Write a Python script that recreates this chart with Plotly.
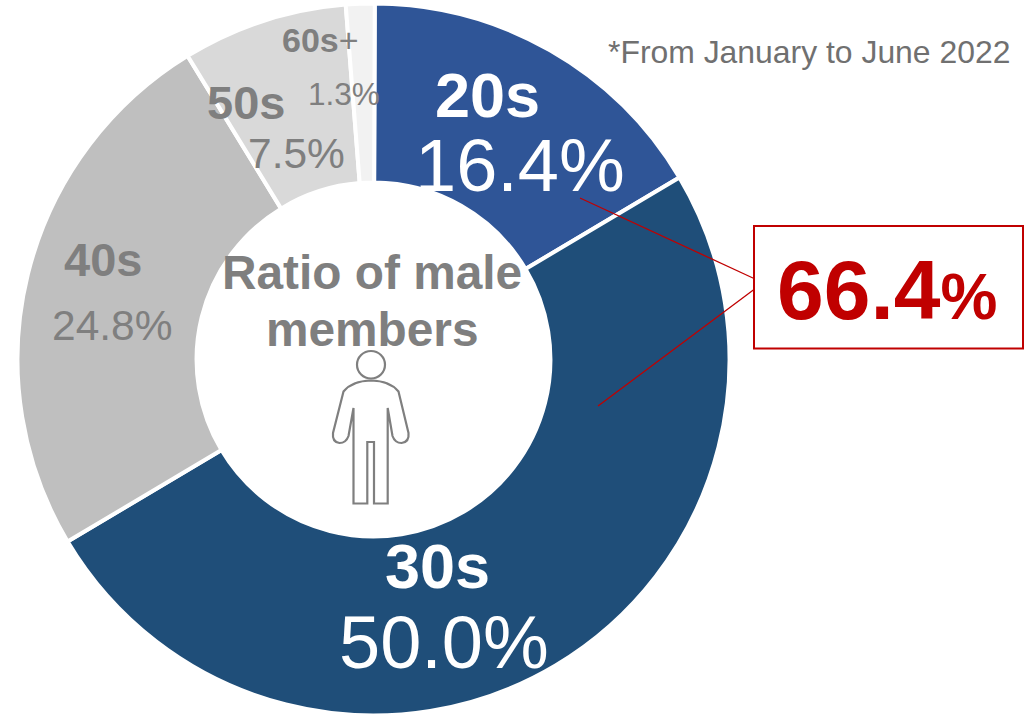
import plotly.graph_objects as go

groups = ["20s", "30s", "40s", "50s", "60s+"]
shares = [16.4, 50.0, 24.8, 7.5, 1.3]
colors = ["#2F5597", "#1F4E79", "#BFBFBF", "#D9D9D9", "#F2F2F2"]
total_label = "66.4"
center_lines = ["Ratio of male", "members"]
note = "*From January to June 2022"

W, H = 1024, 717
FONT = "Liberation Sans, Arial, sans-serif"
GREY = "#7F7F7F"
RED = "#C00000"

fig = go.Figure(go.Pie(
    labels=groups, values=shares, sort=False, direction="clockwise", rotation=0.2,
    hole=0.497, textinfo="none", hoverinfo="label+percent",
    marker=dict(colors=colors, line=dict(color="white", width=4)),
    domain=dict(x=[17.5 / W, 729.5 / W], y=[(H - 715.5) / H, (H - 3.5) / H]),
    showlegend=False,
))


def txt(x, y, text, size, color, bold=False):
    fig.add_annotation(
        x=x, y=y, xref="x", yref="y", text=f"<b>{text}</b>" if bold else text,
        showarrow=False, xanchor="center", yanchor="middle",
        font=dict(family=FONT, size=size, color=color),
    )


# (label centre, percent centre, label size, percent size, colour)
label_style = [
    ((487, 95), (520, 165), 63, 74, "white"),
    ((437, 566), (444, 642), 63, 74, "white"),
    ((103, 259), (112, 325), 47, 42.5, GREY),
    ((246, 102), (296, 153), 47, 42.5, GREY),
]
for g, v, (lp, pp, ls, ps, c) in zip(groups[:4], shares[:4], label_style):
    txt(*lp, g, ls, c, bold=True)
    txt(*pp, f"{v:.1f}%", ps, c)

txt(320, 40, "<b>60s</b>+", 34, GREY)
txt(344, 94, f"{shares[4]:.1f}%", 31.5, GREY)

txt(372, 272, center_lines[0], 47.8, GREY, bold=True)
txt(372, 329, center_lines[1], 47.8, GREY, bold=True)
txt(809, 52, note, 31.9, "#707070")

fig.add_annotation(
    x=887, y=290, xref="x", yref="y", showarrow=False, xanchor="center", yanchor="middle",
    text=f"<b>{total_label}<span style='font-size:64px'>%</span></b>",
    font=dict(family=FONT, size=84, color=RED),
)

# callout box and leader lines
fig.add_shape(type="rect", x0=754, x1=1023, y0=226, y1=348.5, line=dict(color=RED, width=2), fillcolor="white", layer="above")
fig.add_shape(type="line", x0=580, y0=198, x1=754, y1=278.5, line=dict(color=RED, width=1.3), layer="above")
fig.add_shape(type="line", x0=598, y0=406, x1=754, y1=289.5, line=dict(color=RED, width=1.3), layer="above")

# person pictogram
icon = dict(line=dict(color=GREY, width=2.2), fillcolor="rgba(0,0,0,0)", layer="above")
fig.add_shape(type="circle", x0=357, x1=385, y0=351, y1=378.5, **icon)
fig.add_shape(
    type="path",
    path=("M 343.5 391.5 Q 352 381 371 380.5 Q 390 381 398.5 391.5 L 408.5 433 "
          "Q 409.5 442 401.5 443 Q 395 443 392.5 436 L 387.7 408 L 387.7 503.5 L 374 503.5 "
          "L 374 442 L 367.3 442 L 367.3 503.5 L 353.5 503.5 L 353.5 408 L 348.5 436 "
          "Q 346 443 339.5 443 Q 332 442 333 433 Z"),
    **icon,
)

fig.update_layout(
    width=W, height=H, margin=dict(l=0, r=0, t=0, b=0),
    paper_bgcolor="white", plot_bgcolor="rgba(0,0,0,0)",
    xaxis=dict(range=[0, W], visible=False, domain=[0, 1], fixedrange=True),
    yaxis=dict(range=[H, 0], visible=False, domain=[0, 1], fixedrange=True),
)
fig.write_html("out.html", post_script="document.body.style.margin='0';", config={"displayModeBar": False})
